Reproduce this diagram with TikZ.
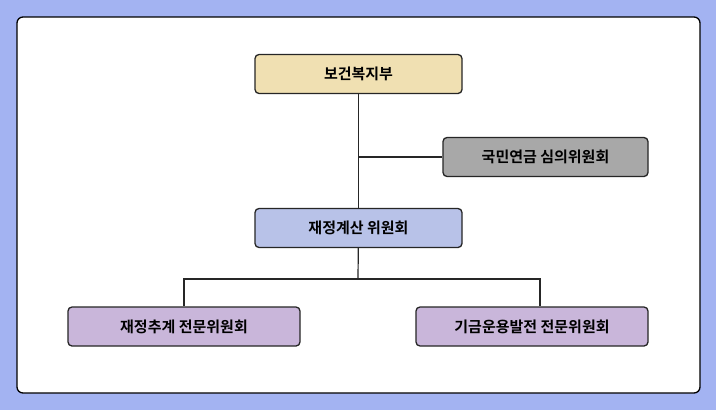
\documentclass[tikz,border=0pt]{standalone}
\usepackage{fontspec}
\setmainfont{Noto Sans CJK KR}[BoldFont={Noto Sans CJK KR Bold}]
\definecolor{bgblue}{HTML}{A3B3F2}
\definecolor{tan}{HTML}{F0E0B2}
\definecolor{grayb}{HTML}{A8A8A8}
\definecolor{lblue}{HTML}{B8C2E8}
\definecolor{lav}{HTML}{C9B6DA}
\tikzset{box/.style={draw=black!85,line width=1.3pt,rounded corners=4pt,minimum height=39pt,font=\fontsize{15}{17}\selectfont\bfseries,inner sep=0pt},
conn/.style={line width=1.2pt,black!85}}
\begin{document}
\begin{tikzpicture}[x=1pt,y=-1pt]
\fill[bgblue] (0,0) rectangle (716,410);
\draw[fill=white,line width=1.3pt,rounded corners=6pt] (17,17) rectangle (700,393);
\node[box,fill=tan,minimum width=207pt] (a) at (358.5,74) {보건복지부};
\node[box,fill=grayb,minimum width=205pt] (b) at (545.5,157) {국민연금 심의위원회};
\node[box,fill=lblue,minimum width=207pt] (c) at (358.5,228) {재정계산 위원회};
\node[box,fill=lav,minimum width=232pt] (d) at (184,326.5) {재정추계 전문위원회};
\node[box,fill=lav,minimum width=232pt] (e) at (532,326.5) {기금운용발전 전문위원회};
\coordinate (j1) at (358,157);
\coordinate (j2) at (358,279);
\coordinate (j3) at (540,279);
\draw[conn] (a) -- (c);
\draw[conn] (j1) -- (b.west);
\draw[conn] (c) -- (j2);
\draw[conn] (d.north) |- (j2) -- (j3) -- (j3 |- e.north);
\end{tikzpicture}
\end{document}
